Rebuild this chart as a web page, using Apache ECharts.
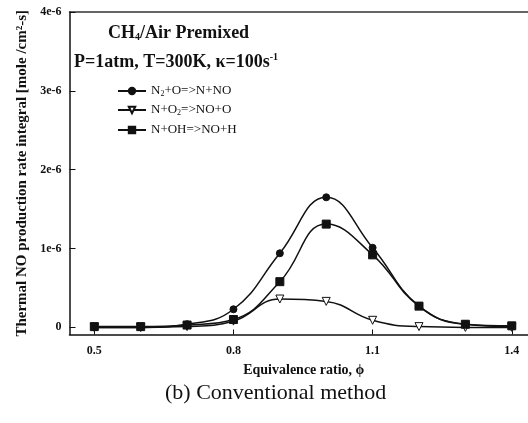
<!DOCTYPE html>
<html><head><meta charset="utf-8">
<script src="https://cdn.jsdelivr.net/npm/echarts@6/dist/echarts.min.js"></script>
<style>html,body{margin:0;padding:0;background:#fff}#c{width:528px;height:423px}</style>
</head><body><div id="c"></div>
<script>
const phi = [0.5, 0.6, 0.7, 0.8, 0.9, 1.0, 1.1, 1.2, 1.3, 1.4];
const n2o = [0.0, 0.0, 0.04e-6, 0.23e-6, 0.94e-6, 1.65e-6, 1.01e-6, 0.27e-6, 0.04e-6, 0.01e-6];
const no2 = [0.0, 0.0, 0.01e-6, 0.08e-6, 0.36e-6, 0.33e-6, 0.09e-6, 0.01e-6, 0.0, 0.0];
const noh = [0.01e-6, 0.01e-6, 0.03e-6, 0.10e-6, 0.58e-6, 1.31e-6, 0.92e-6, 0.27e-6, 0.04e-6, 0.02e-6];
const xTicks = [0.5, 0.8, 1.1, 1.4];
const yTicks = [0, 1e-6, 2e-6, 3e-6, 4e-6];
const yTickLabels = ['0', '1e-6', '2e-6', '3e-6', '4e-6'];
const names = ['N2+O=>N+NO', 'N+O2=>NO+O', 'N+OH=>NO+H'];
const legendRich = {
  '0': '{n|N}{s|2}{n|+O=>N+NO}',
  '1': '{n|N+O}{s|2}{n|=>NO+O}',
  '2': '{n|N+OH=>NO+H}'
};
const F = '"Liberation Serif", "Times New Roman", serif';
const C = '#111';
const zip = a => phi.map((x, i) => [x, a[i]]);

const chart = echarts.init(document.getElementById('c'), null, {renderer: 'canvas'});
const legendBase = (i, top) => ({
  data: [names[i]], orient: 'vertical', left: 112, top: top,
  itemWidth: 28, itemHeight: 8, itemGap: 0, selectedMode: false,
  formatter: () => legendRich[i],
  textStyle: {
    fontFamily: F, color: C, lineHeight: 14,
    rich: {
      n: {fontFamily: F, fontSize: 13, color: C},
      s: {fontFamily: F, fontSize: 8, color: C, verticalAlign: 'bottom', padding: [6, 0, 0, 0]}
    }
  }
});
const serBase = (i, data, symbol, size, fill, rot) => ({
  name: names[i], type: 'line', data: zip(data), smooth: 0.45,
  symbol: symbol, symbolSize: size, symbolRotate: rot || 0, showSymbol: true,
  lineStyle: {color: C, width: 1.5},
  itemStyle: {color: fill, borderColor: C, borderWidth: 1},
  z: 3 + i
});

chart.setOption({
  animation: false,
  backgroundColor: '#fff',
  title: [
    {text: '{b|CH}{s|4}{b|/Air Premixed}', left: 103, top: 19,
     textStyle: {rich: {
       b: {fontFamily: F, fontWeight: 'bold', fontSize: 18, color: C},
       s: {fontFamily: F, fontWeight: 'bold', fontSize: 10, color: C, padding: [8, 0, 0, 0]}
     }}},
    {text: '{b|P=1atm, T=300K, κ=100s}{p|-1}', left: 69, top: 47,
     textStyle: {rich: {
       b: {fontFamily: F, fontWeight: 'bold', fontSize: 18, color: C},
       p: {fontFamily: F, fontWeight: 'bold', fontSize: 10, color: C, padding: [0, 0, 10, 0]}
     }}},
    {text: '(b) Conventional method', left: 160, top: 377,
     textStyle: {fontFamily: F, fontWeight: 'normal', fontSize: 22, color: C}}
  ],
  legend: [legendBase(0, 79), legendBase(1, 98), legendBase(2, 118)],
  grid: {left: 69.5, right: 0, top: 12, bottom: 88.5, containLabel: false},
  xAxis: [{
    type: 'value', min: 0.4465, max: 1.435,
    name: 'Equivalence ratio, ϕ', nameLocation: 'middle', nameGap: 29,
    nameTextStyle: {fontFamily: F, fontWeight: 'bold', fontSize: 14, color: C, padding: [0, 0, 0, 10]},
    axisLine: {show: true, onZero: false, lineStyle: {color: C, width: 1.5}},
    axisTick: {show: true, inside: true, length: 5, customValues: xTicks, lineStyle: {color: C, width: 1}},
    axisLabel: {customValues: xTicks, margin: 10, fontFamily: F, fontWeight: 'bold', fontSize: 12, color: C,
      formatter: v => v.toFixed(1)},
    splitLine: {show: false}
  }, {
    type: 'value', position: 'top', min: 0.4465, max: 1.435,
    axisLine: {show: true, onZero: false, lineStyle: {color: '#333', width: 1.5}},
    axisTick: {show: false}, axisLabel: {show: false}, splitLine: {show: false}
  }],
  yAxis: {
    type: 'value', min: -0.09e-6, max: 4e-6,
    name: 'Thermal NO production rate integral [mole /cm²-s]',
    nameLocation: 'middle', nameGap: 38, nameRotate: 90,
    nameTextStyle: {fontFamily: F, fontWeight: 'bold', fontSize: 15, color: C},
    axisLine: {show: true, onZero: false, lineStyle: {color: C, width: 1.5}},
    axisTick: {show: true, inside: true, length: 6, customValues: yTicks, lineStyle: {color: C, width: 1}},
    axisLabel: {customValues: yTicks, margin: 8, fontFamily: F, fontWeight: 'bold', fontSize: 12, color: C,
      formatter: v => { const k = yTicks.findIndex(t => Math.abs(t - v) < 1e-9); return k >= 0 ? yTickLabels[k] : ''; }},
    splitLine: {show: false}
  },
  series: [
    serBase(0, n2o, 'circle', 7, C),
    serBase(1, no2, 'triangle', 8, '#fff', 180),
    serBase(2, noh, 'rect', 8, C)
  ]
});
</script>
</body></html>
